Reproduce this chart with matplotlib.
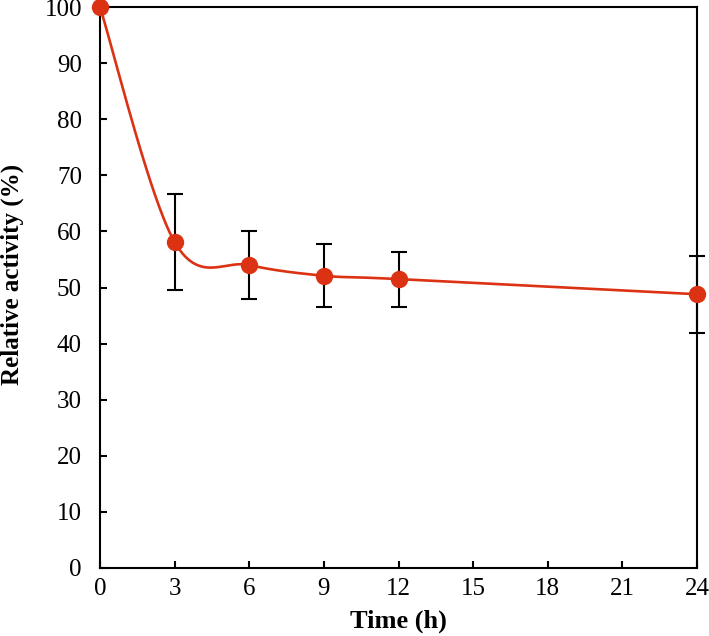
import numpy as np
import matplotlib
matplotlib.use("Agg")
import matplotlib.pyplot as plt

time_h = [0, 3, 6, 9, 12, 24]
activity = [100, 58.1, 54.0, 52.1, 51.5, 48.8]
err = [0, 8.6, 6.0, 5.65, 4.9, 6.9]
xticks = [0, 3, 6, 9, 12, 15, 18, 21, 24]
yticks = list(range(0, 101, 10))

def smooth_curve(x, y, n=60):
    # Catmull-Rom style Bezier smoothing (like spreadsheet "smoothed line")
    x = np.asarray(x, float); y = np.asarray(y, float)
    P = np.column_stack([x, y])
    out = []
    for i in range(len(P) - 1):
        p0 = P[i - 1] if i > 0 else P[i]
        p1 = P[i]; p2 = P[i + 1]
        p3 = P[i + 2] if i + 2 < len(P) else P[i + 1]
        c1 = p1 + (p2 - p0) / 6.0
        c2 = p2 - (p3 - p1) / 6.0
        t = np.linspace(0, 1, n)[:, None]
        seg = ((1 - t) ** 3) * p1 + 3 * ((1 - t) ** 2) * t * c1 + 3 * (1 - t) * t ** 2 * c2 + t ** 3 * p2
        out.append(seg if i == 0 else seg[1:])
    s = np.vstack(out)
    return s[:, 0], s[:, 1]

plt.rcParams['font.family'] = ['Liberation Serif', 'DejaVu Serif']

fig = plt.figure(figsize=(7.09, 6.36), dpi=100)
ax = fig.add_axes([100/709, 1 - 568/636, 597/709, 561/636])

red = '#DC3214'
sx, sy = smooth_curve(time_h, activity)
ax.plot(sx, sy, color=red, lw=1.9, zorder=2, clip_on=False)
ax.errorbar(time_h[1:], activity[1:], yerr=err[1:], fmt='none', ecolor='black',
            elinewidth=1.5, capsize=6, capthick=1.5, zorder=3, clip_on=False)
ax.plot(time_h, activity, 'o', color=red, ms=11.5, zorder=4, clip_on=False)

ax.set_xlim(0, 24)
ax.set_ylim(0, 100)
ax.set_xticks(xticks)
ax.set_yticks(yticks)
ax.tick_params(direction='in', length=5, width=1.5, labelsize=18)
ax.tick_params(axis='x', pad=7)
ax.tick_params(axis='y', pad=13)
for s in ax.spines.values():
    s.set_linewidth(1.5)
ax.set_xlabel('Time (h)', fontsize=19, fontweight='bold', labelpad=7)
ax.set_ylabel('Relative activity (%)', fontsize=18, fontweight='bold')
ax.yaxis.set_label_coords(-0.127, 0.524)

fig.savefig('out.png', dpi=100)
